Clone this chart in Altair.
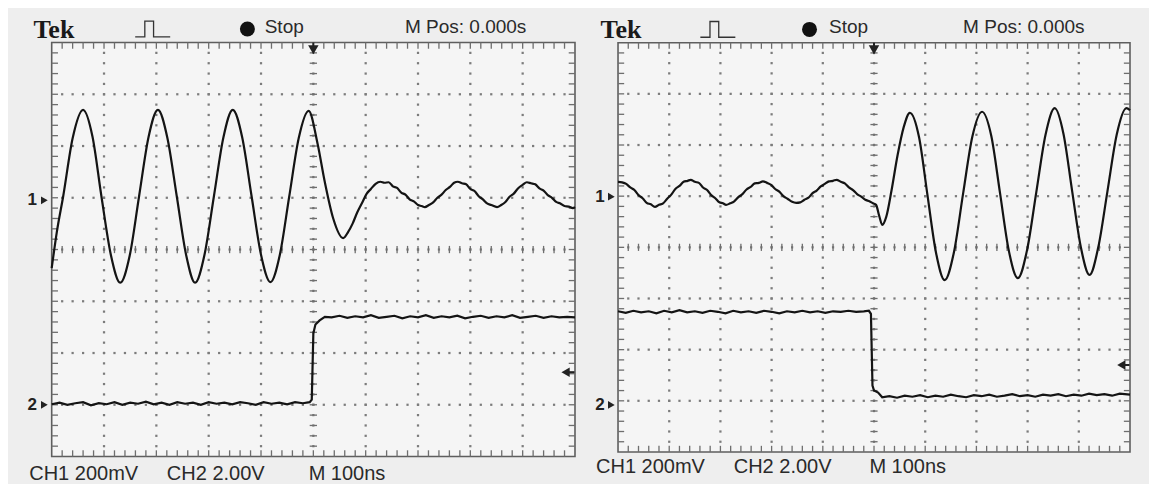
import altair as alt
import pandas as pd

# ---------------- waveform data (divisions: x 0..10, y -4..4) ----------------
L_CH1_X = [0.00, 0.10, 0.22, 0.40, 0.60, 0.78, 0.95, 1.13, 1.31, 1.49, 1.67, 1.85, 2.03, 2.21,
           2.39, 2.57, 2.74, 2.92, 3.10, 3.28, 3.46, 3.64, 3.82, 4.00, 4.18, 4.36, 4.54, 4.72,
           4.91, 5.08, 5.22, 5.38, 5.57, 5.66, 5.75, 5.84, 5.93, 6.02, 6.10, 6.19, 6.28, 6.36,
           6.44, 6.52, 6.60, 6.68, 6.76, 6.84, 6.92, 7.00, 7.07, 7.13, 7.21, 7.29, 7.37, 7.45,
           7.53, 7.61, 7.69, 7.76, 7.84, 7.92, 8.00, 8.08, 8.16, 8.24, 8.32, 8.40, 8.51, 8.59,
           8.67, 8.75, 8.83, 8.91, 9.00, 9.08, 9.16, 9.24, 9.32, 9.40, 9.48, 9.56, 9.64, 9.72,
           9.80, 9.88, 9.96, 10.00]
L_CH1_Y = [-0.36, 0.35, 1.03, 2.15, 2.70, 2.18, 1.03, -0.10, -0.64, -0.12, 1.03, 2.17, 2.70, 2.16,
           1.03, -0.11, -0.64, -0.10, 1.03, 2.16, 2.70, 2.17, 1.03, -0.10, -0.63, -0.10, 1.03, 2.15,
           2.68, 2.05, 1.30, 0.60, 0.22, 0.33, 0.50, 0.72, 0.90, 1.08, 1.17, 1.27, 1.31, 1.29,
           1.30, 1.22, 1.19, 1.10, 1.06, 0.97, 0.93, 0.86, 0.84, 0.82, 0.86, 0.91, 1.00, 1.06,
           1.15, 1.21, 1.29, 1.31, 1.28, 1.26, 1.17, 1.13, 1.03, 0.97, 0.89, 0.86, 0.82, 0.86,
           0.92, 1.02, 1.08, 1.18, 1.25, 1.30, 1.28, 1.26, 1.18, 1.14, 1.05, 1.00, 0.92, 0.89,
           0.84, 0.83, 0.80, 0.82]

L_CH2_X = [0.00, 0.15, 0.30, 0.45, 0.60, 0.75, 0.90, 1.05, 1.20, 1.35, 1.50, 1.65, 1.80, 1.95,
           2.10, 2.25, 2.40, 2.55, 2.70, 2.85, 3.00, 3.15, 3.30, 3.45, 3.60, 3.75, 3.90, 4.05,
           4.20, 4.35, 4.50, 4.65, 4.80, 4.93, 4.97, 5.00, 5.04, 5.12, 5.22, 5.35, 5.50, 5.65,
           5.80, 5.95, 6.10, 6.25, 6.40, 6.55, 6.70, 6.85, 7.00, 7.15, 7.30, 7.45, 7.60, 7.75,
           7.90, 8.05, 8.20, 8.35, 8.50, 8.65, 8.80, 8.95, 9.10, 9.25, 9.40, 9.55, 9.70, 9.85,
           10.00]
L_CH2_Y = [-2.99, -2.96, -3.00, -2.97, -2.95, -3.01, -2.97, -2.99, -2.95, -3.00, -2.96, -2.98,
           -2.94, -2.99, -2.96, -3.00, -2.95, -2.98, -2.96, -3.00, -2.95, -2.98, -2.96, -2.99,
           -2.95, -2.97, -3.00, -2.95, -2.98, -2.96, -2.99, -2.95, -2.97, -2.95, -2.90, -1.62,
           -1.45, -1.37, -1.30, -1.31, -1.28, -1.32, -1.29, -1.31, -1.27, -1.32, -1.30, -1.28,
           -1.33, -1.29, -1.31, -1.27, -1.32, -1.29, -1.31, -1.28, -1.33, -1.30, -1.28, -1.32,
           -1.29, -1.31, -1.27, -1.32, -1.30, -1.28, -1.32, -1.29, -1.31, -1.30, -1.31]

R_CH1_X = [0.00, 0.08, 0.16, 0.24, 0.32, 0.40, 0.48, 0.56, 0.64, 0.72, 0.80, 0.88, 0.96, 1.04,
           1.12, 1.20, 1.28, 1.36, 1.42, 1.50, 1.58, 1.66, 1.74, 1.82, 1.90, 1.98, 2.05, 2.11,
           2.19, 2.27, 2.35, 2.43, 2.51, 2.59, 2.67, 2.75, 2.83, 2.91, 2.99, 3.07, 3.15, 3.23,
           3.31, 3.40, 3.48, 3.56, 3.64, 3.72, 3.80, 3.88, 3.96, 4.04, 4.12, 4.20, 4.27, 4.35,
           4.43, 4.51, 4.59, 4.67, 4.75, 4.83, 4.91, 4.98, 5.04, 5.10, 5.16, 5.24, 5.34, 5.46,
           5.58, 5.70, 5.88, 6.04, 6.21, 6.38, 6.56, 6.74, 6.92, 7.11, 7.29, 7.46, 7.63, 7.81,
           7.99, 8.17, 8.35, 8.53, 8.70, 8.87, 9.04, 9.21, 9.38, 9.56, 9.74, 9.93, 10.00]
R_CH1_Y = [1.28, 1.27, 1.24, 1.17, 1.12, 1.02, 0.96, 0.87, 0.84, 0.79, 0.83, 0.86, 0.95, 1.03,
           1.14, 1.20, 1.28, 1.30, 1.32, 1.28, 1.26, 1.17, 1.12, 1.02, 0.96, 0.88, 0.86, 0.83,
           0.86, 0.90, 0.98, 1.04, 1.13, 1.18, 1.25, 1.26, 1.29, 1.26, 1.22, 1.14, 1.09, 1.00,
           0.95, 0.89, 0.87, 0.88, 0.93, 0.97, 1.06, 1.11, 1.19, 1.24, 1.29, 1.30, 1.32, 1.28,
           1.25, 1.17, 1.12, 1.04, 0.99, 0.93, 0.90, 0.86, 0.83, 0.62, 0.44, 0.60, 1.10, 1.80,
           2.35, 2.63, 2.15, 1.05, -0.10, -0.64, -0.10, 1.05, 2.16, 2.65, 2.18, 1.07, -0.05, -0.60,
           -0.05, 1.08, 2.20, 2.72, 2.22, 1.10, 0.00, -0.54, 0.00, 1.10, 2.20, 2.72, 2.68]

R_CH2_X = [0.00, 0.15, 0.30, 0.45, 0.60, 0.75, 0.90, 1.05, 1.20, 1.35, 1.50, 1.65, 1.80, 1.95,
           2.10, 2.25, 2.40, 2.55, 2.70, 2.85, 3.00, 3.15, 3.30, 3.45, 3.60, 3.75, 3.90, 4.05,
           4.20, 4.35, 4.50, 4.65, 4.80, 4.90, 4.94, 4.97, 5.00, 5.08, 5.16, 5.30, 5.45, 5.60,
           5.75, 5.90, 6.05, 6.20, 6.35, 6.50, 6.65, 6.80, 6.95, 7.10, 7.25, 7.40, 7.55, 7.70,
           7.85, 8.00, 8.15, 8.30, 8.45, 8.60, 8.75, 8.90, 9.05, 9.20, 9.35, 9.50, 9.65, 9.80,
           10.00]
R_CH2_Y = [-1.25, -1.28, -1.24, -1.27, -1.25, -1.29, -1.24, -1.27, -1.23, -1.27, -1.25, -1.28,
           -1.24, -1.26, -1.29, -1.24, -1.27, -1.25, -1.28, -1.24, -1.26, -1.29, -1.25, -1.27,
           -1.24, -1.27, -1.25, -1.28, -1.25, -1.26, -1.24, -1.26, -1.25, -1.24, -1.30, -2.70,
           -2.80, -2.84, -2.93, -2.91, -2.94, -2.90, -2.92, -2.89, -2.93, -2.90, -2.92, -2.88,
           -2.91, -2.93, -2.89, -2.91, -2.88, -2.92, -2.90, -2.87, -2.91, -2.89, -2.92, -2.88,
           -2.90, -2.87, -2.91, -2.88, -2.90, -2.86, -2.89, -2.87, -2.90, -2.86, -2.88]

BRAND = "Tek"
HEADER_TEXT = ["Stop", "M Pos: 0.000s"]
FOOTER_TEXT = ["CH1 200mV", "CH2 2.00V", "M 100ns"]
GROUND_LABELS = ["1", "2"]

SANS = "Liberation Sans, Arial, sans-serif"
SERIF = "Liberation Serif, Times New Roman, serif"
TRACE = "#141414"
GRID = "#7c7c7c"


def graticule():
    dots = []
    for gx in [1, 2, 3, 4, 5, 6, 7, 8, 9]:
        for k in range(1, 40):
            dots.append({"x": gx, "y": round(-4 + 0.2 * k, 3)})
    for gy in [-3, -2, -1, 0, 1, 2, 3]:
        for k in range(1, 50):
            dots.append({"x": round(0.2 * k, 3), "y": gy})
    ticks = []
    for k in range(1, 50):
        v = round(0.2 * k, 3)
        ticks.append({"x": v, "x2": v, "y": 4, "y2": 3.88})
        ticks.append({"x": v, "x2": v, "y": -4, "y2": -3.88})
        ticks.append({"x": v, "x2": v, "y": -0.07, "y2": 0.07})
    for k in range(1, 40):
        v = round(-4 + 0.2 * k, 3)
        ticks.append({"x": 0, "x2": 0.12, "y": v, "y2": v})
        ticks.append({"x": 10, "x2": 9.88, "y": v, "y2": v})
        ticks.append({"x": 4.93, "x2": 5.07, "y": v, "y2": v})
    return pd.DataFrame(dots), pd.DataFrame(ticks)


def panel(ch1x, ch1y, ch2x, ch2y, xdom, ydom, w, h, pos):
    xs = alt.Scale(domain=xdom, nice=False, zero=False)
    ys = alt.Scale(domain=ydom, nice=False, zero=False)
    X = lambda f: alt.X(f + ":Q", scale=xs, axis=None)
    Y = lambda f: alt.Y(f + ":Q", scale=ys, axis=None)

    dots, ticks = graticule()
    box = alt.Chart(pd.DataFrame({"x": [0], "x2": [10], "y": [-4], "y2": [4]})).mark_rect(
        fill="#f5f5f5", stroke="#5e5e5e", strokeWidth=1.6
    ).encode(x=X("x"), x2="x2", y=Y("y"), y2="y2")
    dot_layer = alt.Chart(dots).mark_square(size=5, color=GRID, opacity=1).encode(x=X("x"), y=Y("y"))
    tick_layer = alt.Chart(ticks).mark_rule(color="#6e6e6e", strokeWidth=1.3).encode(
        x=X("x"), x2="x2", y=Y("y"), y2="y2")
    ch1 = alt.Chart(pd.DataFrame({"x": ch1x, "y": ch1y})).mark_line(
        color=TRACE, strokeWidth=2.2, interpolate="monotone").encode(x=X("x"), y=Y("y"), order="x:Q")
    ch2 = alt.Chart(pd.DataFrame({"x": ch2x, "y": ch2y})).mark_line(
        color=TRACE, strokeWidth=2.2, interpolate="linear").encode(x=X("x"), y=Y("y"), order="x:Q")

    one = pd.DataFrame({"x": [0]})

    def txt(text, x, y, size, font=SANS, weight="normal", align="left", baseline="alphabetic", color="#2a2a2a"):
        return alt.Chart(one).mark_text(
            text=text, fontSize=size, font=font, fontWeight=weight, align=align,
            baseline=baseline, color=color
        ).encode(x=alt.X(datum=x, scale=xs, axis=None), y=alt.Y(datum=y, scale=ys, axis=None))

    def sym(shape, x, y, size, filled=True, sw=1.0, color=TRACE):
        return alt.Chart(one).mark_point(
            shape=shape, size=size, filled=filled, strokeWidth=sw, color=color, opacity=1
        ).encode(x=alt.X(datum=x, scale=xs, axis=None), y=alt.Y(datum=y, scale=ys, axis=None))

    def seg(x1, x2, y1, y2, sw=2):
        return alt.Chart(one).mark_rule(color="#222222", strokeWidth=sw).encode(
            x=alt.X(datum=x1, scale=xs, axis=None), x2=alt.X2(datum=x2),
            y=alt.Y(datum=y1, scale=ys, axis=None), y2=alt.Y2(datum=y2))

    layers = [box, dot_layer, tick_layer, ch2, ch1]
    layers.append(txt(BRAND, pos["tek_x"], pos["tek_y"], 26, font=SERIF, weight="bold", color="#1a1a1a"))
    layers.append(sym("M-1,0.45L-0.45,0.45L-0.45,-0.45L0.05,-0.45L0.05,0.45L1,0.45",
                      pos["icon_x"], pos["icon_y"], 1225, filled=False, sw=1.3, color="#333333"))
    layers.append(sym("circle", pos["dot_x"], pos["icon_y"], 225, color="#111111"))
    layers.append(txt(HEADER_TEXT[0], pos["stop_x"], pos["head_y"], 19))
    layers.append(txt(HEADER_TEXT[1], pos["mpos_x"], pos["head_y"], 19))
    for t, fx in zip(FOOTER_TEXT, pos["foot_x"]):
        layers.append(txt(t, fx, pos["foot_y"], 20))
    # ground markers
    for lab, gy in zip(GROUND_LABELS, pos["ground_y"]):
        layers.append(txt(lab, pos["glab_x"], gy, 17, weight="bold", align="center", baseline="middle",
                          color="#222222"))
        layers.append(sym("triangle-right", pos["garr_x"], gy, 60, color="#222222"))
    # trigger position (top) and trigger level (right) markers
    layers.append(seg(5, 5, 4, 3.9))
    layers.append(sym("triangle-down", 5, pos["tpos_y"], 110, color="#222222"))
    layers.append(seg(pos["tlev_x"], 9.99, pos["tlev_y"], pos["tlev_y"]))
    layers.append(sym("triangle-left", pos["tlev_x"], pos["tlev_y"], 90, color="#222222"))

    return alt.layer(*layers).properties(width=w, height=h)


left = panel(
    L_CH1_X, L_CH1_Y, L_CH2_X, L_CH2_Y,
    xdom=[-0.835, 10.153], ydom=[-4.531, 4.667], w=575, h=476,
    pos=dict(tek_x=-0.35, tek_y=4.09, icon_x=1.93, icon_y=4.26, dot_x=3.74, stop_x=4.07,
             mpos_x=6.75, head_y=4.19, foot_x=[-0.43, 2.20, 4.91], foot_y=-4.45,
             ground_y=[0.95, -3.0], glab_x=-0.37, garr_x=-0.14, tpos_y=3.86,
             tlev_x=9.82, tlev_y=-2.37),
)
right = panel(
    R_CH1_X, R_CH1_Y, R_CH2_X, R_CH2_Y,
    xdom=[-0.684, 10.371], ydom=[-4.626, 4.678], w=566, h=476,
    pos=dict(tek_x=-0.34, tek_y=4.09, icon_x=1.95, icon_y=4.26, dot_x=3.74, stop_x=4.12,
             mpos_x=6.74, head_y=4.19, foot_x=[-0.43, 2.26, 4.91], foot_y=-4.41,
             ground_y=[0.99, -3.08], glab_x=-0.35, garr_x=-0.13, tpos_y=3.86,
             tlev_x=9.83, tlev_y=-2.30),
)

chart = alt.hconcat(left, right, spacing=0).properties(
    padding=0, background="#f0f0f0"
).configure_view(stroke=None, fill="#eeeeee")

chart.save("out.html", embed_options={"renderer": "svg", "actions": False})
